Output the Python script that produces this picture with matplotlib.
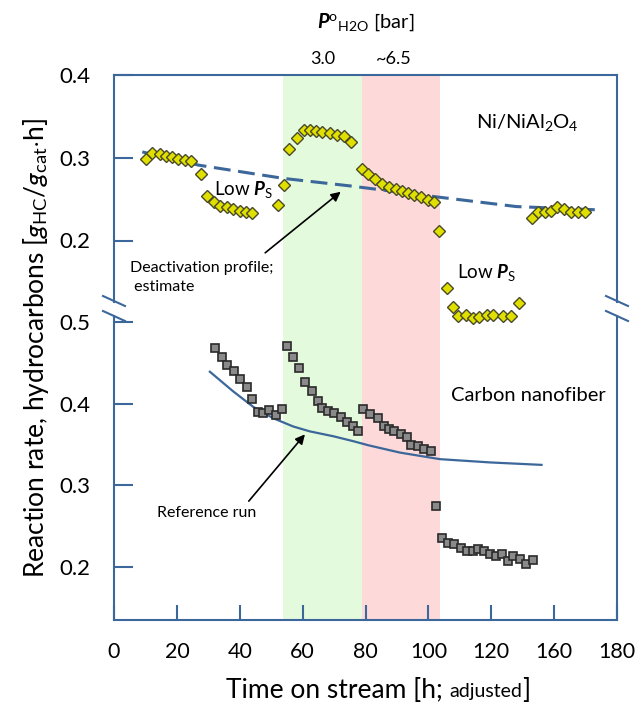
import matplotlib
matplotlib.use("Agg")
import matplotlib.pyplot as plt
from matplotlib.lines import Line2D
from matplotlib.offsetbox import TextArea, HPacker, AnnotationBbox

plt.rcParams["font.family"] = ["Lato", "DejaVu Sans"]
plt.rcParams["mathtext.fontset"] = "custom"
plt.rcParams["mathtext.rm"] = "Lato"
plt.rcParams["mathtext.it"] = "Lato:italic"
plt.rcParams["mathtext.bf"] = "Lato:bold"
plt.rcParams["mathtext.bfit"] = "Lato:bold:italic"

# --- datos ---
# Ni/NiAl2O4 (panel superior)
ni_t = [10.2, 12.2, 14.6, 16.5, 18.5, 20.5, 22.6, 24.5, 27.7,
        29.7, 31.8, 33.7, 35.8, 37.9, 40.1, 41.9, 44.0, 52.1, 54.2,
        55.8, 58.2, 60.4, 62.3, 64.2, 66.3, 68.7, 71.0, 73.2, 75.4,
        79.0, 80.9, 83.0, 85.3, 87.5, 89.6, 91.5, 93.4, 95.4, 97.5, 99.8, 101.9,
        103.5, 105.8, 107.7, 109.5, 111.9, 114.1, 116.2, 118.5, 120.4, 123.8,
        126.3, 128.9,
        132.9, 135.0, 137.1, 139.0, 141.0, 143.2, 145.3, 147.5, 149.8]
ni_rate = [0.298, 0.306, 0.305, 0.302, 0.301, 0.298, 0.297, 0.296, 0.280,
           0.254, 0.246, 0.242, 0.241, 0.238, 0.236, 0.235, 0.233, 0.243, 0.267,
           0.310, 0.324, 0.334, 0.333, 0.332, 0.331, 0.330, 0.328, 0.326, 0.319,
           0.287, 0.280, 0.274, 0.268, 0.265, 0.262, 0.260, 0.257, 0.255, 0.253, 0.249, 0.247,
           0.211, 0.143, 0.120, 0.109, 0.110, 0.106, 0.107, 0.110, 0.110, 0.109,
           0.109, 0.125,
           0.227, 0.235, 0.235, 0.236, 0.240, 0.238, 0.235, 0.234, 0.234]

# perfil de desactivacion estimado (linea discontinua)
deact_t = [9, 27, 54, 75, 102, 128, 154]
deact_rate = [0.307, 0.291, 0.275, 0.266, 0.253, 0.241, 0.237]

# nanofibra de carbono (panel inferior)
cnf_t = [32.1, 34.5, 35.8, 38.2, 40.1, 42.2, 43.8, 45.7, 47.5, 49.4, 51.4, 53.3,
         54.9, 57.0, 58.9, 60.8, 62.9, 64.8, 66.3, 68.2, 70.1, 72.1, 74.2, 76.1, 77.7,
         79.3, 81.4, 83.9, 85.9, 87.6, 89.2, 91.2, 93.1, 94.5, 96.6, 98.6, 100.7,
         102.3, 104.4, 106.3, 108.2, 110.4, 112.2, 114.1, 115.9, 117.7, 119.6,
         121.5, 123.5, 125.2, 126.8, 129.1, 131.0, 133.4]
cnf_rate = [0.468, 0.457, 0.447, 0.440, 0.430, 0.420, 0.406, 0.390, 0.389, 0.392, 0.386, 0.393,
            0.470, 0.457, 0.443, 0.427, 0.416, 0.403, 0.395, 0.391, 0.388, 0.383, 0.378, 0.372, 0.366,
            0.394, 0.387, 0.382, 0.373, 0.369, 0.366, 0.363, 0.359, 0.349, 0.348, 0.344, 0.342,
            0.275, 0.235, 0.229, 0.228, 0.223, 0.220, 0.219, 0.222, 0.220, 0.216,
            0.213, 0.216, 0.207, 0.214, 0.210, 0.204, 0.209]

# corrida de referencia (linea continua)
ref_t = [30.5, 37.9, 44.3, 50.7, 57.0, 62.3, 69.8, 76.1, 80.9, 91.0, 103.7, 119.6, 136.0]
ref_rate = [0.439, 0.415, 0.396, 0.382, 0.372, 0.366, 0.360, 0.354, 0.349, 0.340, 0.332,
            0.328, 0.325]

# zonas de presion de agua
zona_ini = [53.6, 79.0]
zona_fin = [79.0, 103.6]
zona_colores = ["#E4FADC", "#FDD9D9"]
zona_etiquetas = ["3.0", "~6.5"]
zona_etiq_x = [66.3, 89.0]

x_ticks = [0, 20, 40, 60, 80, 100, 120, 140, 160]
x_ticklabels = ["0", "20", "40", "60", "80", "100", "120", "160", "180"]
top_ticks = [0.2, 0.3, 0.4]
bot_ticks = [0.2, 0.3, 0.4, 0.5]

AZUL = "#3B679A"
W, H = 641, 708


def fx(px):
    return px / W


def fy(py):
    return 1 - py / H


fig = plt.figure(figsize=(W / 100, H / 100), dpi=100)
izq, der = 114, 617
ancho = fx(der - izq)

# fondo con las zonas sombreadas
ax_bg = fig.add_axes([fx(izq), fy(620), ancho, (620 - 75) / H])
ax_bg.set_xlim(0, 160)
for a, b, c in zip(zona_ini, zona_fin, zona_colores):
    ax_bg.axvspan(a, b, color=c, lw=0)
ax_bg.axis("off")

ax_top = fig.add_axes([fx(izq), fy(302), ancho, (302 - 75) / H], facecolor="none")
ax_bot = fig.add_axes([fx(izq), fy(620), ancho, (620 - 316) / H], facecolor="none")

for ax in (ax_top, ax_bot):
    ax.set_xlim(0, 160)
    for s in ax.spines.values():
        s.set_color(AZUL)
        s.set_linewidth(1.5)
    ax.tick_params(axis="y", direction="in", length=14, width=1.5, color=AZUL,
                   labelsize=16, pad=17)

ax_top.set_ylim(0.4 - 227 / 827.5, 0.4)
ax_top.spines["bottom"].set_visible(False)
ax_top.set_xticks([])
ax_top.set_yticks(top_ticks)
ax_top.set_yticklabels([f"{v:.1f}" for v in top_ticks])

ax_bot.set_ylim(0.2 - 53 / 817, 0.2 + 251 / 817)
ax_bot.spines["top"].set_visible(False)
ax_bot.set_yticks(bot_ticks)
ax_bot.set_yticklabels([f"{v:.1f}" for v in bot_ticks])
ax_bot.set_xticks(x_ticks)
ax_bot.set_xticklabels(x_ticklabels)
ax_bot.tick_params(axis="x", direction="in", length=11, width=1.5, color=AZUL,
                   labelsize=15.5, pad=16)

# series
ax_top.plot(deact_t, deact_rate, ls=(0, (5.5, 2.5)), color=AZUL, lw=2.2, zorder=2)
ax_top.plot(ni_t, ni_rate, ls="none", marker="D", ms=5.8, mfc="#E0E000",
            mec="#4A4A2A", mew=1.0, zorder=3, clip_on=False)

ax_bot.plot(ref_t, ref_rate, color=AZUL, lw=1.6, zorder=2)
ax_bot.plot(cnf_t, cnf_rate, ls="none", marker="s", ms=5.2, mfc="#8A8A8A",
            mec="#2A2A2A", mew=1.2, zorder=3, clip_on=False)

# etiquetas de zonas
for xm, lab in zip(zona_etiq_x, zona_etiquetas):
    ax_top.text(xm, 1.07, lab, transform=ax_top.get_xaxis_transform(),
                ha="center", va="center", fontsize=13)
fig.text(fx(366), fy(22), r"$\mathbfit{P}^{\mathrm{o}}{}_{\mathrm{H2O}}$ [bar]",
         ha="center", va="center", fontsize=14.5)

# textos en los paneles
ax_top.text(131.4, 0.343, r"Ni/NiAl$_2$O$_4$", ha="center", va="center", fontsize=14.5)
ax_top.text(41.3, 0.262, r"Low $\mathbfit{P}_{\mathrm{S}}$", ha="center", va="center", fontsize=13.5)
ax_top.text(118.6, 0.161, r"Low $\mathbfit{P}_{\mathrm{S}}$", ha="center", va="center", fontsize=13.5)
ax_top.text(5.0, 0.175, "Deactivation profile;\n estimate", ha="left", va="top",
            fontsize=11.5, linespacing=1.4)
ax_top.annotate("", xy=(72.8, 0.261), xytext=(47.4, 0.183),
                arrowprops=dict(arrowstyle="-|>", color="black", lw=1.2, mutation_scale=14))

ax_bot.text(131.7, 0.4105, "Carbon nanofiber", ha="center", va="center", fontsize=14.5)
ax_bot.text(29.6, 0.266, "Reference run", ha="center", va="center", fontsize=11.5)
ax_bot.annotate("", xy=(61.3, 0.3650), xytext=(42.3, 0.278),
                arrowprops=dict(arrowstyle="-|>", color="black", lw=1.2, mutation_scale=14))

# marcas de corte del eje
for xc in (izq, der):
    for yc in (301, 316):
        fig.add_artist(Line2D([fx(xc - 11), fx(xc + 11)], [fy(yc - 5), fy(yc + 5)],
                              color=AZUL, lw=1.5))

# titulos de ejes
fig.text(fx(36), fy(348),
         r"Reaction rate, hydrocarbons [$\mathit{g}_{\mathrm{HC}}/\mathit{g}_{\mathrm{cat}}$$\cdot$h]",
         rotation=90, ha="center", va="center", fontsize=19)

xlab = HPacker(children=[TextArea("Time on stream [h; ", textprops=dict(fontsize=19)),
                         TextArea("adjusted", textprops=dict(fontsize=14)),
                         TextArea("]", textprops=dict(fontsize=19))],
               align="baseline", pad=0, sep=0)
fig.add_artist(AnnotationBbox(xlab, (fx(378), fy(690)), xycoords="figure fraction",
                              frameon=False, box_alignment=(0.5, 0.5)))

fig.savefig("out.png", dpi=100)
